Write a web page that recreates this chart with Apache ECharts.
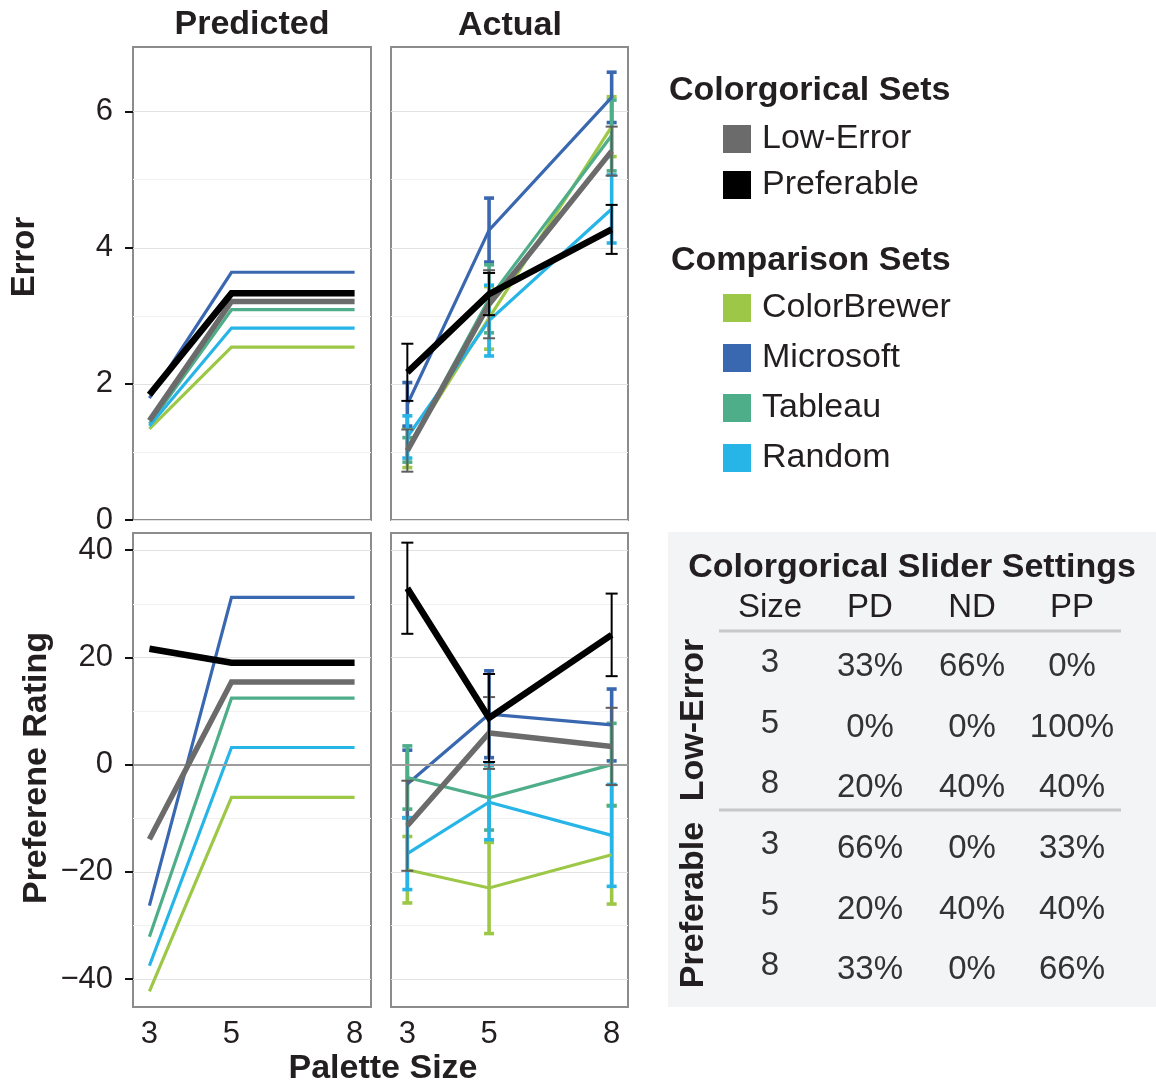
<!DOCTYPE html>
<html>
<head>
<meta charset="utf-8">
<script src="https://cdn.jsdelivr.net/npm/echarts@6/dist/echarts.min.js"></script>
<style>
  html, body { margin: 0; padding: 0; background: #fff; }
  #chart { width: 1156px; height: 1086px; }
</style>
</head>
<body>
<div id="chart"></div>
<script>
// ---- data ----
const paletteSizes = [3, 5, 8];
const setNames = ['ColorBrewer', 'Microsoft', 'Tableau', 'Random', 'Low-Error', 'Preferable'];

// mean error per palette size (3, 5, 8)
const errorPredicted = [
  [1.34, 2.54, 2.54],
  [1.79, 3.64, 3.64],
  [1.41, 3.09, 3.09],
  [1.38, 2.82, 2.82],
  [1.46, 3.21, 3.21],
  [1.84, 3.33, 3.33]
];
const errorActual = [
  [1.06, 2.97, 5.78],
  [1.70, 4.26, 6.21],
  [1.03, 3.25, 5.65],
  [1.22, 2.93, 4.57],
  [1.02, 3.17, 5.42],
  [2.17, 3.32, 4.27]
];
const errorActualCI = [
  [0.29, 0.46, 0.44],
  [0.32, 0.47, 0.37],
  [0.18, 0.50, 0.52],
  [0.31, 0.52, 0.50],
  [0.31, 0.50, 0.36],
  [0.42, 0.31, 0.36]
];

// mean preference rating per palette size (3, 5, 8)
const ratingPredicted = [
  [-42.3, -6.1, -6.1],
  [-26.3, 31.2, 31.2],
  [-32.1, 12.4, 12.4],
  [-37.5, 3.2, 3.2],
  [-13.9, 15.4, 15.4],
  [21.6, 19.0, 19.0]
];
const ratingActual = [
  [-19.6, -23.0, -16.8],
  [-3.6, 9.4, 7.4],
  [-2.4, -6.2, 0.0],
  [-16.6, -7.0, -13.2],
  [-11.4, 5.9, 3.4],
  [32.9, 8.7, 24.2]
];
const ratingActualCI = [
  [6.2, 8.5, 9.2],
  [6.3, 8.1, 6.7],
  [5.9, 6.0, 7.7],
  [6.7, 7.0, 9.5],
  [8.4, 6.7, 7.2],
  [8.5, 8.2, 7.7]
];

const errorTicks = [0, 2, 4, 6];
const errorGrid = [0, 1, 2, 3, 4, 5, 6];
const ratingTicks = [-40, -20, 0, 20, 40];
const ratingGrid = [-40, -30, -20, -10, 0, 10, 20, 30, 40];

// slider settings table
const tableColumns = ['Size', 'PD', 'ND', 'PP'];
const lowErrorSettings = [
  ['3', '33%', '66%', '0%'],
  ['5', '0%', '0%', '100%'],
  ['8', '20%', '40%', '40%']
];
const preferableSettings = [
  ['3', '66%', '0%', '33%'],
  ['5', '20%', '40%', '40%'],
  ['8', '33%', '0%', '66%']
];

// ---- styling ----
const setColors = ['#9dc847', '#3a68b0', '#4fae8a', '#27b5e8', '#6b6b6b', '#000000'];
const FONT = '"Liberation Sans", Arial, Helvetica, sans-serif';
const TEXT = '#231f20';

const grids = [
  { left: 133, top: 47, width: 238, height: 473 },
  { left: 391, top: 47, width: 237, height: 473 },
  { left: 133, top: 533, width: 238, height: 474 },
  { left: 391, top: 533, width: 237, height: 474 }
].map(g => Object.assign(g, { show: true, borderColor: '#8c8c8c', borderWidth: 2, backgroundColor: '#fff' }));

const fmtNum = v => (v < 0 ? '\u2212' + Math.abs(v) : String(v));

const xAxes = grids.map((g, i) => ({
  type: 'value', gridIndex: i, min: 2.6, max: 8.4,
  axisLine: { show: false }, axisTick: { show: false }, splitLine: { show: false },
  axisLabel: i >= 2
    ? { show: true, customValues: paletteSizes, fontSize: 31, color: TEXT, fontFamily: FONT, margin: 12 }
    : { show: false }
}));

const yAxes = [];
grids.forEach((g, i) => {
  const isErr = i < 2;
  const lo = isErr ? 0 : -45.2, hi = isErr ? 6.95 : 43.2;
  // gridline axis
  yAxes.push({
    type: 'value', gridIndex: i, position: 'left', offset: 0, min: lo, max: hi,
    axisLine: { show: false }, axisLabel: { show: false },
    axisTick: { show: false, customValues: isErr ? errorGrid : ratingGrid },
    splitLine: { show: true, lineStyle: { color: ['#e2e2e2', '#f1f1f1'], width: 1 } }
  });
  // tick and label axis
  const left = (i % 2 === 0);
  yAxes.push({
    type: 'value', gridIndex: i, position: 'left', offset: 0, min: lo, max: hi,
    axisLine: { show: false }, splitLine: { show: false },
    axisTick: { show: left, customValues: isErr ? errorTicks : ratingTicks, length: 8, lineStyle: { color: '#111', width: 2 } },
    axisLabel: { show: left, customValues: isErr ? errorTicks : ratingTicks, formatter: fmtNum, fontSize: 31, color: TEXT, fontFamily: FONT, margin: 20 }
  });
});

function lineWidthFor(i) { return i === 5 ? 6.5 : (i === 4 ? 5.5 : 3.2); }
function zFor(i) { return i === 5 ? 6 : (i === 4 ? 5 : 3); }

function lineSeries(i, gridIdx, values) {
  return {
    type: 'line', name: setNames[i], xAxisIndex: gridIdx, yAxisIndex: gridIdx * 2,
    data: paletteSizes.map((s, k) => [s, values[k]]),
    showSymbol: false, symbol: 'none', silent: true,
    color: setColors[i],
    lineStyle: { color: setColors[i], width: lineWidthFor(i), join: 'miter' },
    z: zFor(i)
  };
}

function errorBarSeries(i, gridIdx, means, ci) {
  const thin = i >= 4;
  const width = thin ? 2 : 3.6;
  const capHalf = thin ? 6 : 5;
  return {
    type: 'custom', name: setNames[i], xAxisIndex: gridIdx, yAxisIndex: gridIdx * 2,
    data: paletteSizes.map((s, k) => [s, means[k] - ci[k], means[k] + ci[k]]),
    encode: { x: 0, y: [1, 2] },
    itemStyle: { color: setColors[i] },
    silent: true,
    renderItem(params, api) {
      const x = api.value(0);
      const a = api.coord([x, api.value(1)]);
      const b = api.coord([x, api.value(2)]);
      const st = { stroke: thin ? (i === 5 ? '#000' : '#5e5e5e') : setColors[i], lineWidth: width };
      return {
        type: 'group',
        children: [
          { type: 'line', shape: { x1: a[0], y1: a[1], x2: b[0], y2: b[1] }, style: st },
          { type: 'line', shape: { x1: a[0] - capHalf, y1: a[1], x2: a[0] + capHalf, y2: a[1] }, style: st },
          { type: 'line', shape: { x1: b[0] - capHalf, y1: b[1], x2: b[0] + capHalf, y2: b[1] }, style: st }
        ]
      };
    },
    z: zFor(i)
  };
}

const series = [];
// zero reference lines in the rating panels
[2, 3].forEach(g => {
  series.push({
    type: 'line', name: 'zero', xAxisIndex: g, yAxisIndex: g * 2, data: [], silent: true, z: 1,
    markLine: {
      silent: true, symbol: ['none', 'none'], label: { show: false },
      lineStyle: { color: '#9c9c9c', width: 2, type: 'solid' },
      data: [{ yAxis: 0 }]
    }
  });
});
setNames.forEach((n, i) => {
  series.push(lineSeries(i, 0, errorPredicted[i]));
  series.push(lineSeries(i, 1, errorActual[i]));
  series.push(lineSeries(i, 2, ratingPredicted[i]));
  series.push(lineSeries(i, 3, ratingActual[i]));
});
setNames.forEach((n, i) => {
  series.push(errorBarSeries(i, 1, errorActual[i], errorActualCI[i]));
  series.push(errorBarSeries(i, 3, ratingActual[i], ratingActualCI[i]));
});

// ---- text and table ----
function txt(text, x, y, opts) {
  opts = opts || {};
  return {
    type: 'text', x, y, rotation: opts.rotation || 0, silent: true, z: 10,
    style: {
      text, fill: opts.fill || TEXT,
      font: (opts.bold ? 'bold ' : '') + (opts.size || 32) + 'px ' + FONT,
      align: opts.align || 'center', verticalAlign: 'middle'
    }
  };
}

const graphics = [
  txt('Predicted', 252, 25, { bold: true, size: 34 }),
  txt('Actual', 510, 26, { bold: true, size: 34 }),
  txt('Palette Size', 383, 1069, { bold: true, size: 34 }),
  txt('Error', 25, 257, { bold: true, size: 33, rotation: Math.PI / 2 }),
  txt('Preferene Rating', 37, 768, { bold: true, size: 34, rotation: Math.PI / 2 }),
  txt('Colorgorical Sets', 669, 91, { bold: true, size: 34, align: 'left' }),
  txt('Comparison Sets', 671, 261, { bold: true, size: 34, align: 'left' }),
  { type: 'rect', shape: { x: 668, y: 532, width: 488, height: 475 }, style: { fill: '#f3f4f6' }, silent: true, z: 0 },
  txt('Colorgorical Slider Settings', 912, 568, { bold: true, size: 34 }),
  { type: 'line', shape: { x1: 719, y1: 631, x2: 1121, y2: 631 }, style: { stroke: '#c8c8c8', lineWidth: 3 }, silent: true, z: 5 },
  { type: 'line', shape: { x1: 719, y1: 810, x2: 1121, y2: 810 }, style: { stroke: '#c8c8c8', lineWidth: 3 }, silent: true, z: 5 },
  txt('Low-Error', 694, 720, { bold: true, size: 34, rotation: Math.PI / 2 }),
  txt('Preferable', 694, 905, { bold: true, size: 34, rotation: Math.PI / 2 })
];
const colX = [770, 870, 972, 1072];
tableColumns.forEach((c, k) => graphics.push(txt(c, colX[k], 608, { size: 33 })));
const rowY = [667, 728, 788, 849, 910, 970];
lowErrorSettings.concat(preferableSettings).forEach((row, r) => {
  row.forEach((cell, k) => {
    graphics.push(txt(cell, colX[k], k === 0 ? rowY[r] - 4 : rowY[r], { size: 33, fill: '#333' }));
  });
});

const legendBase = {
  orient: 'vertical', left: 723, icon: 'rect', itemWidth: 28, itemHeight: 28,
  selectedMode: false, padding: 0,
  textStyle: { fontSize: 34, color: TEXT, fontFamily: FONT, padding: [0, 0, 0, 6] }
};

const chart = echarts.init(document.getElementById('chart'), null, { renderer: 'canvas' });
chart.setOption({
  animation: false,
  backgroundColor: '#fff',
  grid: grids,
  xAxis: xAxes,
  yAxis: yAxes,
  legend: [
    Object.assign({}, legendBase, { top: 122, itemGap: 12, data: ['Low-Error', 'Preferable'] }),
    Object.assign({}, legendBase, { top: 291, itemGap: 16, data: ['ColorBrewer', 'Microsoft', 'Tableau', 'Random'] })
  ],
  graphic: graphics,
  series
});
</script>
</body>
</html>
